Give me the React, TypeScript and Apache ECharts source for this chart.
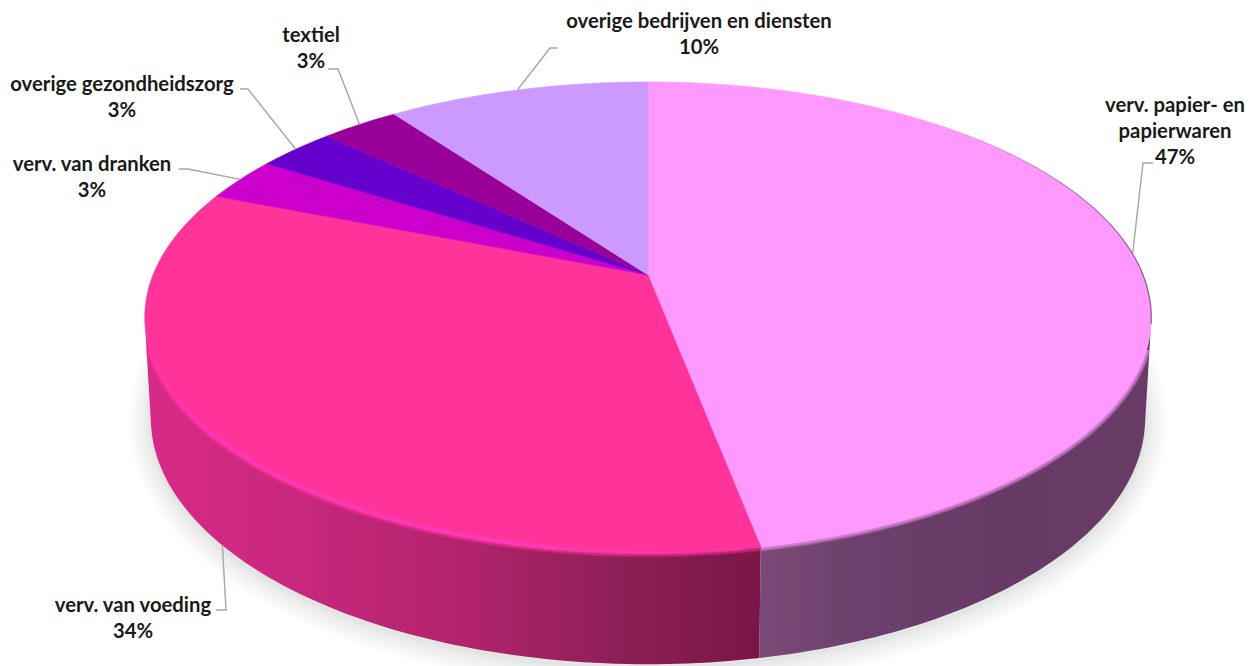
import React, { useEffect, useRef } from "react";
import * as echarts from "echarts";

// Aandeel per sector, in procenten, met de klok mee vanaf boven
const categories = [
  "verv. papier- en\npapierwaren",
  "verv. van voeding",
  "verv. van dranken",
  "overige gezondheidszorg",
  "textiel",
  "overige bedrijven en diensten",
];
const shares = [47, 34, 3, 3, 3, 10];
const faceColors = ["#FF99FF", "#FF3399", "#CC00CC", "#6600CC", "#990099", "#CC99FF"];

// Perspective frame of the two discs of the cylinder
const PERSPECTIVE = -0.18;
const CX = 648;
const topDisc = { cy: 275, a: 495, b: 227.8 };
const bottomDisc = { cy: 374, a: 489, b: 238 };
// Rim angles where the wall's outline leaves the top disc on either side
const WALL_FROM = 102;
const WALL_TO = 258;

const wallStops: Record<number, [number, string][]> = {
  0: [[757, "#7c4a78"], [860, "#6c406c"], [1000, "#673a65"], [1150, "#693c67"]],
  1: [[145, "#d82a88"], [300, "#c8277c"], [480, "#ae236a"], [620, "#8e1f58"], [757, "#7a1646"]],
};

// Widths of the stacked strokes that make up the floor shadow
const shadowWidths = [44, 38, 32, 26, 20, 15, 10, 6, 3];

// Tekstpositie en knik van de verbindingslijn per label
const labelLayout = [
  { x: 1175, y: 105, start: [1153, 163], knee: [1143, 163], onBottom: false },
  { x: 133, y: 605, start: [216, 610], knee: [226, 610], onBottom: true },
  { x: 92, y: 164, start: [179, 169], knee: [188, 169], onBottom: false },
  { x: 122, y: 84, start: [240, 89], knee: [248, 89], onBottom: false },
  { x: 311, y: 35, start: [328, 69], knee: [338, 69], onBottom: false },
  { x: 699, y: 21, start: [558, 48], knee: [550, 48], onBottom: false },
];

const total = shares.reduce((s, v) => s + v, 0);
const cumulative = shares.reduce<number[]>((acc, v) => [...acc, acc[acc.length - 1] + v], [0]);

// Projects a rim point (degrees clockwise from the back of the disc) onto the page
function project(disc: typeof topDisc, deg: number): [number, number] {
  const t = (deg * Math.PI) / 180;
  const u = Math.sin(t);
  const v = -Math.cos(t);
  const w = 1 + PERSPECTIVE * v;
  return [CX + (disc.a * u) / w, disc.cy + (disc.b * v) / w];
}

function arc(disc: typeof topDisc, from: number, to: number): [number, number][] {
  const steps = Math.max(2, Math.ceil(Math.abs(to - from)));
  const pts: [number, number][] = [];
  for (let i = 0; i <= steps; i++) pts.push(project(disc, from + ((to - from) * i) / steps));
  return pts;
}

const toDeg = (share: number) => (share / total) * 360;

function globalGradient(stops: [number, string][]) {
  const x0 = stops[0][0];
  const x1 = stops[stops.length - 1][0];
  return {
    type: "linear",
    global: true,
    x: x0,
    y: 0,
    x2: x1,
    y2: 0,
    colorStops: stops.map(([x, color]) => ({ offset: (x - x0) / (x1 - x0), color })),
  };
}

const seriesData = categories.map((name, i) => ({ name, value: shares[i] }));

function renderFloor() {
  const outline = arc(bottomDisc, 0, 360).map(([x, y]) => [x, y + 3]);
  return {
    type: "group",
    children: shadowWidths.map((lineWidth) => ({
      type: "polyline",
      shape: { points: outline },
      style: { stroke: "rgba(60,60,50,0.016)", lineWidth, fill: "none" },
    })),
  };
}

function renderWall(params: any) {
  const i = params.dataIndex;
  const from = Math.max(toDeg(cumulative[i]), WALL_FROM);
  const to = Math.min(toDeg(cumulative[i + 1]), WALL_TO);
  if (to <= from || !wallStops[i]) return null;
  return {
    type: "polygon",
    shape: { points: [...arc(topDisc, from, to), ...arc(bottomDisc, to, from)] },
    style: { fill: globalGradient(wallStops[i]) },
  };
}

function renderFace(params: any) {
  const i = params.dataIndex;
  const from = toDeg(cumulative[i]);
  const to = toDeg(cumulative[i + 1]);
  const color = faceColors[i];
  const children: any[] = [];
  const frontFrom = Math.max(from, WALL_FROM + 6);
  const frontTo = Math.min(to, WALL_TO - 6);
  if (frontTo > frontFrom) {
    // Soft bevel where the face runs into the wall
    const rim = arc(topDisc, frontFrom, frontTo);
    [9, 7, 5, 3].forEach((lineWidth) => {
      children.push({
        type: "polyline",
        shape: { points: rim },
        style: { stroke: color, lineWidth, opacity: 0.28, fill: "none" },
      });
    });
  }
  children.push({
    type: "polygon",
    shape: { points: [[CX, topDisc.cy], ...arc(topDisc, from, to)] },
    style: { fill: color, stroke: color, lineWidth: 0.6 },
  });
  if (i === 0) {
    // Thin dark seam on the far right of the rim
    children.push({
      type: "polyline",
      shape: { points: arc(topDisc, 40, WALL_FROM) },
      style: {
        stroke: globalGradient([
          [925, "rgba(96,58,96,0)"],
          [1060, "rgba(96,58,96,0.4)"],
          [1150, "rgba(96,58,96,0.75)"],
        ]),
        lineWidth: 1.2,
        fill: "none",
      },
    });
  }
  if (i === 1) {
    // Highlight along the front of the darker wedge
    const glint = globalGradient([
      [145, "#ff3399"],
      [190, "#ff36b4"],
      [520, "#ff3cbc"],
      [650, "#ff36a8"],
      [757, "#ff3399"],
    ]);
    const rim = arc(topDisc, 171, 252);
    [5, 3].forEach((lineWidth) => {
      children.push({
        type: "polyline",
        shape: { points: rim.map(([x, y]) => [x, y - 1]) },
        style: { stroke: glint, lineWidth, opacity: 0.6, fill: "none" },
      });
    });
  }
  return { type: "group", children };
}

function renderLabel(params: any) {
  const i = params.dataIndex;
  const layout = labelLayout[i];
  const mid = toDeg((cumulative[i] + cumulative[i + 1]) / 2);
  const tip = project(layout.onBottom ? bottomDisc : topDisc, mid);
  return {
    type: "group",
    children: [
      {
        type: "polyline",
        shape: { points: [layout.start, layout.knee, tip] },
        style: { stroke: "#a6a6a6", lineWidth: 1.4, fill: "none" },
      },
      {
        type: "text",
        style: {
          text: `${categories[i]}\n${shares[i]}%`,
          x: layout.x,
          y: layout.y - 14,
          fill: "#1a1a1a",
          font: "bold 20.3px Lato",
          align: "center",
          verticalAlign: "top",
          lineHeight: 26,
        },
      },
    ],
  };
}

export default function App() {
  const ref = useRef<HTMLDivElement>(null);
  useEffect(() => {
    if (!ref.current) return;
    const chart = echarts.init(ref.current, undefined, { renderer: "svg" });
    const custom = (name: string, z: number, renderItem: any, data: any[]) => ({
      type: "custom",
      name,
      coordinateSystem: "none",
      silent: true,
      clip: false,
      z,
      renderItem,
      data,
    });
    chart.setOption({
      animation: false,
      backgroundColor: "#ffffff",
      series: [
        custom("schaduw", 1, renderFloor, [total]),
        custom("zijkant", 2, renderWall, seriesData),
        custom("bovenvlak", 3, renderFace, seriesData),
        custom("labels", 4, renderLabel, seriesData),
      ],
    });
    return () => chart.dispose();
  }, []);
  return (
    <div
      ref={ref}
      style={{ position: "absolute", left: 0, top: 0, width: 1259, height: 666 }}
    />
  );
}
